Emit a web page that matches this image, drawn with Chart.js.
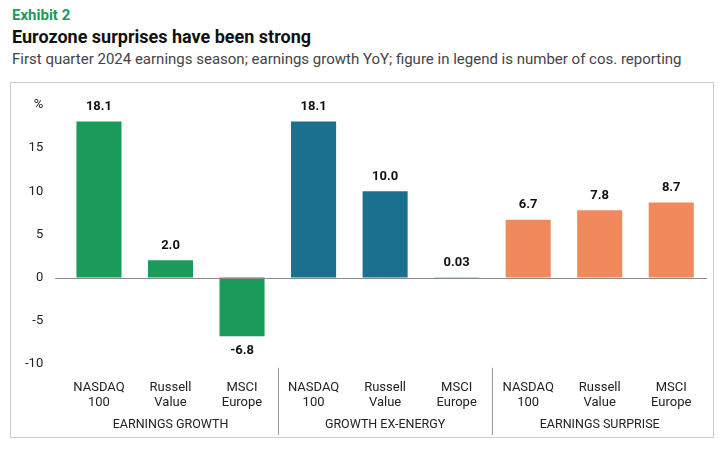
<!DOCTYPE html>
<html><head><meta charset="utf-8">
<script src="https://cdn.jsdelivr.net/npm/chart.js@4.4.1/dist/chart.umd.min.js"></script>
<style>
body{margin:0;background:#fff;font-family:Roboto,"Open Sans",sans-serif;width:725px;height:467px;overflow:hidden}
#h1{position:absolute;left:12px;top:6px;color:#1a9b5b;font-weight:bold;font-size:15px}
#h2{position:absolute;left:12px;top:26px;color:#111;font-weight:bold;font-size:18px}
#h3{position:absolute;left:12px;top:50px;color:#444;font-size:15px}
#box{position:absolute;left:10px;top:82px;width:704px;height:356px;border:1px solid #ccc;box-sizing:border-box}
</style></head><body>
<div id="h1">Exhibit 2</div>
<div id="h2">Eurozone surprises have been strong</div>
<div id="h3">First quarter 2024 earnings season; earnings growth YoY; figure in legend is number of cos. reporting</div>
<div id="box"><canvas id="c" width="702" height="354"></canvas></div>
<script>
const categories = [['NASDAQ','100'],['Russell','Value'],['MSCI','Europe'],['NASDAQ','100'],['Russell','Value'],['MSCI','Europe'],['NASDAQ','100'],['Russell','Value'],['MSCI','Europe']]
const values = [18.1, 2.0, -6.8, 18.1, 10.0, 0.03, 6.7, 7.8, 8.7]
const valueLabels = ['18.1','2.0','-6.8','18.1','10.0','0.03','6.7','7.8','8.7']
const groups = ['EARNINGS GROWTH','GROWTH EX-ENERGY','EARNINGS SURPRISE']
const groupColors = ['#1a9b5b','#1b6f8f','#f08a5d']

const colors = values.map((v, i) => groupColors[Math.floor(i / 3)])

const labelPlugin = {
    id: 'labels',
    afterDatasetsDraw(chart) {
        const ctx = chart.ctx
        const meta = chart.getDatasetMeta(0)
        const y = chart.scales.y
        ctx.save()
        ctx.font = 'bold 13px Roboto, sans-serif'
        ctx.fillStyle = '#111'
        ctx.textAlign = 'center'
        meta.data.forEach((bar, i) => {
            if (values[i] >= 0) {
                ctx.textBaseline = 'bottom'
                ctx.fillText(valueLabels[i], bar.x, bar.y - 8)
            } else {
                ctx.textBaseline = 'top'
                ctx.fillText(valueLabels[i], bar.x, bar.y + 8)
            }
        })
        // zero line
        ctx.strokeStyle = '#888'
        ctx.lineWidth = 1
        ctx.beginPath()
        ctx.moveTo(chart.chartArea.left - 8, Math.round(y.getPixelForValue(0)) + 0.5)
        ctx.lineTo(chart.chartArea.right, Math.round(y.getPixelForValue(0)) + 0.5)
        ctx.stroke()
        // group separators and labels
        const x = chart.scales.x
        const step = x.getPixelForValue(1) - x.getPixelForValue(0)
        ctx.strokeStyle = '#999'
        for (let g = 1; g < 3; g++) {
            const sx = Math.round(x.getPixelForValue(g * 3) - step / 2) + 0.5
            ctx.beginPath()
            ctx.moveTo(sx, chart.chartArea.bottom + 4)
            ctx.lineTo(sx, chart.height - 2)
            ctx.stroke()
        }
        ctx.font = '12.5px Roboto, sans-serif'
        ctx.fillStyle = '#222'
        ctx.textBaseline = 'middle'
        groups.forEach((g, i) => {
            ctx.fillText(g, x.getPixelForValue(i * 3 + 1), chart.height - 12)
        })
        ctx.restore()
    }
}

new Chart(document.getElementById('c'), {
    type: 'bar',
    data: {
        labels: categories,
        datasets: [{ data: values, backgroundColor: colors, barPercentage: 0.63, categoryPercentage: 1 }]
    },
    options: {
        responsive: false,
        animation: false,
        layout: { padding: { left: 2, right: 6, top: 22, bottom: 18 } },
        plugins: { legend: { display: false }, tooltip: { enabled: false } },
        scales: {
            x: {
                grid: { display: false }, border: { display: false },
                ticks: { color: '#222', font: { size: 13, family: 'Roboto' }, padding: 8, maxRotation: 0 }
            },
            y: {
                min: -10, max: 20,
                grid: { display: false }, border: { display: false },
                ticks: { stepSize: 5, color: '#222', font: { size: 13, family: 'Roboto' }, padding: 12,
                    callback: v => v === 20 ? '%' : v }
            }
        }
    },
    plugins: [labelPlugin]
})
</script>
</body></html>
